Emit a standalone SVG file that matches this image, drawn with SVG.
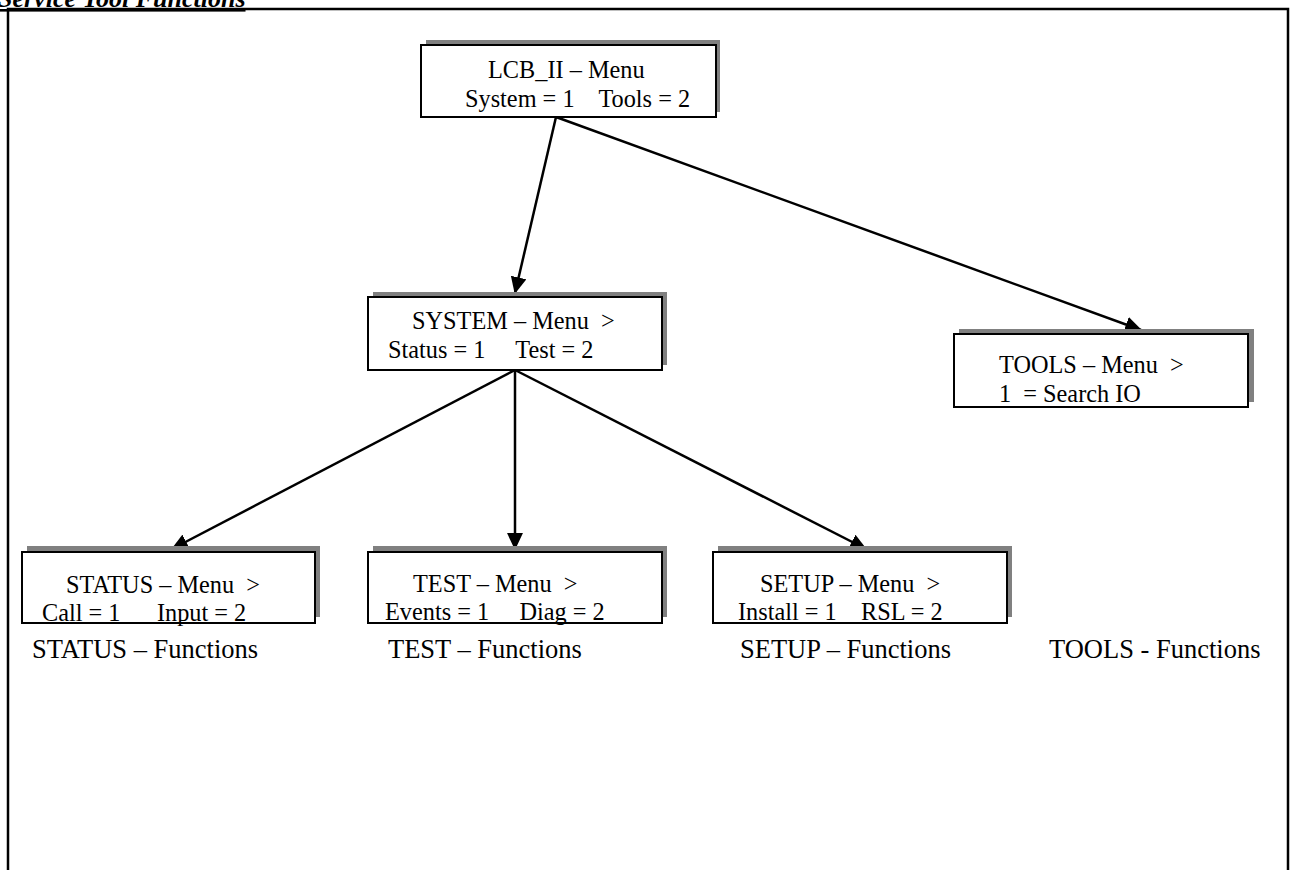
<svg xmlns="http://www.w3.org/2000/svg" width="1293" height="870" viewBox="0 0 1293 870">
<style>
text{font-family:"Liberation Serif","Times New Roman",serif;font-size:24.3px;fill:#000}
.box{fill:#fff;stroke:#000;stroke-width:2}
.sh{fill:#808080}
.ln{stroke:#000;stroke-width:2.5;fill:none;marker-end:url(#ah)}
.lbl{font-size:26.5px}
.title{font-weight:bold;font-style:italic;font-size:26px;text-decoration:underline}
</style>
<defs>
<marker id="ah" markerUnits="userSpaceOnUse" markerWidth="18" markerHeight="16" refX="15" refY="7.5" orient="auto" viewBox="0 0 17 15">
<path d="M0,0 L16,7.5 L0,15 Z" fill="#000"/>
</marker>
</defs>
<rect width="1293" height="870" fill="#fff"/>
<text class="title" x="-2" y="7">Service Tool Functions</text>
<path d="M8,880 V9 H1288 V880" fill="none" stroke="#000" stroke-width="2.5"/>
<g id="connectors">
<line class="ln" x1="556" y1="117" x2="515" y2="293"/>
<line class="ln" x1="556" y1="117" x2="1141" y2="330"/>
<line class="ln" x1="515" y1="370" x2="172" y2="549"/>
<line class="ln" x1="515" y1="370" x2="515" y2="549"/>
<line class="ln" x1="515" y1="370" x2="866" y2="549"/>
</g>
<g id="lcb">
<rect class="sh" x="426" y="40" width="294" height="72"/>
<rect class="box" x="421" y="45" width="295" height="72"/>
<text x="488" y="78">LCB_II – Menu</text>
<text x="465" y="107" xml:space="preserve">System = 1    Tools = 2</text>
</g>
<g id="system">
<rect class="sh" x="373" y="292" width="294" height="73"/>
<rect class="box" x="368" y="297" width="294" height="73"/>
<text x="412" y="329" xml:space="preserve">SYSTEM – Menu  &gt;</text>
<text x="388" y="358" xml:space="preserve">Status = 1     Test = 2</text>
</g>
<g id="tools">
<rect class="sh" x="959" y="329" width="295" height="73"/>
<rect class="box" x="954" y="334" width="294" height="73"/>
<text x="999" y="373" xml:space="preserve">TOOLS – Menu  &gt;</text>
<text x="999" y="402" xml:space="preserve">1  = Search IO</text>
</g>
<g id="status">
<rect class="sh" x="27" y="546" width="293" height="71"/>
<rect class="box" x="22" y="552" width="293" height="71"/>
<text x="66" y="593" xml:space="preserve">STATUS – Menu  &gt;</text>
<text x="42" y="621" xml:space="preserve">Call = 1      Input = 2</text>
</g>
<g id="test">
<rect class="sh" x="373" y="546" width="294" height="71"/>
<rect class="box" x="368" y="552" width="294" height="71"/>
<text x="413" y="592" xml:space="preserve">TEST – Menu  &gt;</text>
<text x="385" y="620" xml:space="preserve">Events = 1     Diag = 2</text>
</g>
<g id="setup">
<rect class="sh" x="718" y="546" width="294" height="71"/>
<rect class="box" x="713" y="552" width="294" height="71"/>
<text x="760" y="592" xml:space="preserve">SETUP – Menu  &gt;</text>
<text x="738" y="620" xml:space="preserve">Install = 1    RSL = 2</text>
</g>
<g id="labels">
<text class="lbl" x="32" y="658">STATUS – Functions</text>
<text class="lbl" x="388" y="658">TEST – Functions</text>
<text class="lbl" x="740" y="658">SETUP – Functions</text>
<text class="lbl" x="1049" y="658">TOOLS - Functions</text>
</g>
</svg>
